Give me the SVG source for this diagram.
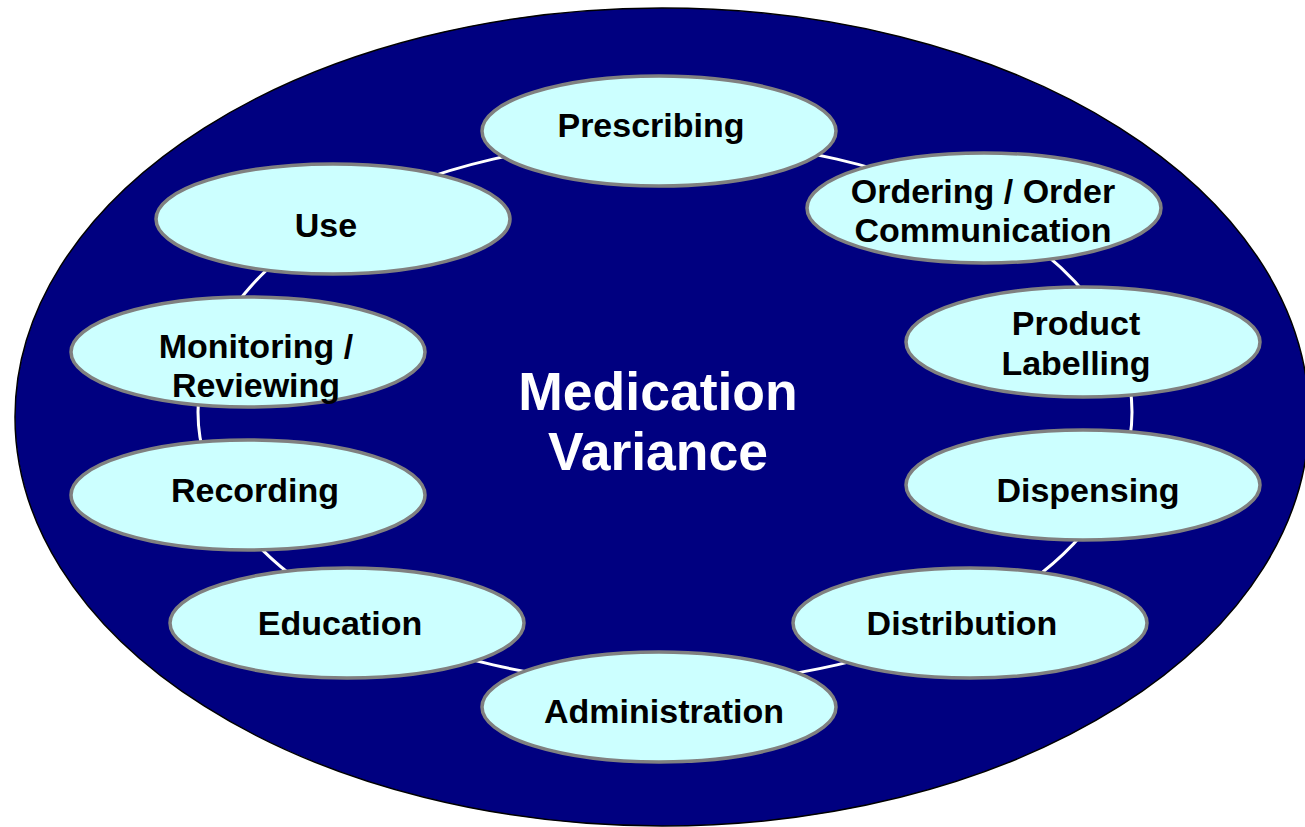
<svg xmlns="http://www.w3.org/2000/svg" width="1305" height="827" viewBox="0 0 1305 827">
<style>
.node ellipse{fill:#CCFFFF;stroke:#808080;stroke-width:3.5}
.lbl{font-family:"Liberation Sans",Arial,sans-serif;font-weight:bold;font-size:34px;fill:#000;text-anchor:middle}
.title{font-family:"Liberation Sans",Arial,sans-serif;font-weight:bold;font-size:53.5px;fill:#fff;text-anchor:middle}
</style>
<rect width="1305" height="827" fill="#fff"/>
<g id="background">
<ellipse cx="662" cy="417" rx="647" ry="409" fill="#000080" stroke="#000" stroke-width="1.5"/>
</g>
<g id="connectors">
<ellipse cx="665" cy="412" rx="467" ry="272" fill="none" stroke="#fff" stroke-width="3"/>
</g>
<g id="title">
<text class="title" x="658" y="410">Medication</text>
<text class="title" x="658" y="470">Variance</text>
</g>
<g id="prescribing" class="node"><ellipse cx="659" cy="131" rx="177" ry="55"/><text class="lbl" x="651" y="137">Prescribing</text></g>
<g id="ordering" class="node"><ellipse cx="984" cy="208" rx="177" ry="55"/><text class="lbl" x="983" y="203">Ordering / Order</text><text class="lbl" x="983" y="242">Communication</text></g>
<g id="labelling" class="node"><ellipse cx="1083" cy="342" rx="177" ry="55"/><text class="lbl" x="1076" y="335">Product</text><text class="lbl" x="1076" y="375">Labelling</text></g>
<g id="dispensing" class="node"><ellipse cx="1083" cy="485" rx="177" ry="55"/><text class="lbl" x="1088" y="502">Dispensing</text></g>
<g id="distribution" class="node"><ellipse cx="970" cy="623" rx="177" ry="55"/><text class="lbl" x="962" y="635">Distribution</text></g>
<g id="administration" class="node"><ellipse cx="659" cy="707" rx="177" ry="55"/><text class="lbl" x="664" y="723">Administration</text></g>
<g id="education" class="node"><ellipse cx="347" cy="623" rx="177" ry="55"/><text class="lbl" x="340" y="635">Education</text></g>
<g id="recording" class="node"><ellipse cx="248" cy="495" rx="177" ry="55"/><text class="lbl" x="255" y="502">Recording</text></g>
<g id="monitoring" class="node"><ellipse cx="248" cy="352" rx="177" ry="55"/><text class="lbl" x="256" y="358">Monitoring /</text><text class="lbl" x="256" y="397">Reviewing</text></g>
<g id="use" class="node"><ellipse cx="333" cy="219" rx="177" ry="55"/><text class="lbl" x="326" y="237">Use</text></g>
</svg>
